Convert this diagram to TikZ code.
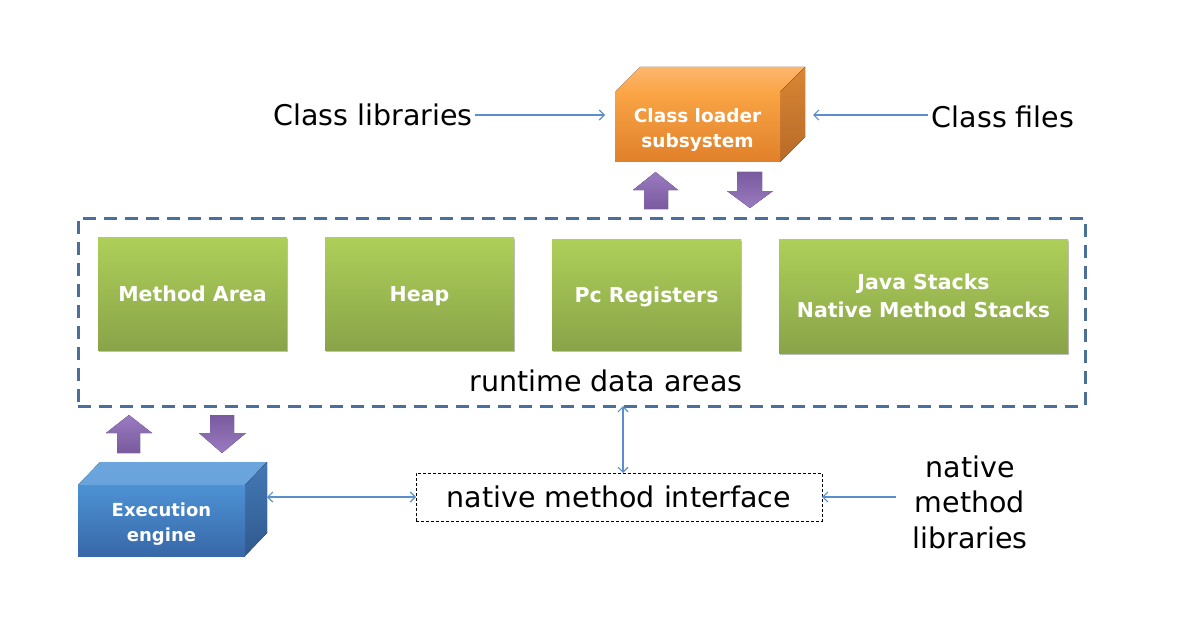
\documentclass[tikz,border=0pt]{standalone}
\usepackage{fontspec}
\setmainfont{DejaVu Sans}
\usetikzlibrary{arrows.meta,shadows,calc}
\definecolor{gtop}{HTML}{AECF59}
\definecolor{gbot}{HTML}{89A449}
\definecolor{otop}{HTML}{FAA546}
\definecolor{obot}{HTML}{E0802A}
\definecolor{otopface}{HTML}{FDB66E}
\definecolor{osideA}{HTML}{D88634}
\definecolor{osideB}{HTML}{B86A28}
\definecolor{btop}{HTML}{4D92D4}
\definecolor{bbot}{HTML}{3868A8}
\definecolor{btopface}{HTML}{6DA6DD}
\definecolor{bsideA}{HTML}{4479B5}
\definecolor{bsideB}{HTML}{30598E}
\definecolor{ptop}{HTML}{9A7BC1}
\definecolor{pbot}{HTML}{7A5A9E}
\definecolor{conncol}{HTML}{5B8FCB}
\definecolor{dashcol}{HTML}{4A6F9A}
\begin{document}
\begin{tikzpicture}[x=1pt,y=-1pt,
  lbl/.style={font=\fontsize{28.5}{35.5}\selectfont, text=black, inner sep=2pt, align=center},
  gbox/.style={top color=gtop, bottom color=gbot, draw=none, outer sep=0pt, text=white,
    font=\bfseries\fontsize{20.5}{28}\selectfont, align=center,
    drop shadow={opacity=0.25, shadow xshift=1pt, shadow yshift=-1.5pt, fill=black}},
  oneline/.style={text height=15pt, text depth=0pt},
  front/.style={draw=none, outer sep=0pt, inner sep=0pt},
  fronttext/.style={text=white, align=center, inner sep=0pt},
  conn/.style={draw=conncol, line width=1.2pt, -{Straight Barb[length=5pt,width=10pt]}},
  dconn/.style={draw=conncol, line width=1.2pt, {Straight Barb[length=5pt,width=10pt]}-{Straight Barb[length=5pt,width=10pt]}},
  parrow/.style={top color=ptop, bottom color=pbot, draw=none}
]
\useasboundingbox (0,0) rectangle (1190,631);
\fill[white] (0,0) rectangle (1190,631);

% runtime data areas dashed box
\node[draw=dashcol, line width=3pt, dash pattern=on 13pt off 8pt, minimum width=1007, minimum height=188, outer sep=0pt] (rda) at (581.5,312) {};
\node[lbl] (rdalbl) at (606,381) {runtime data areas};

% green boxes
\node[gbox, oneline, minimum width=189, minimum height=113] (ma) at (192.5,293.5) {Method Area};
\node[gbox, oneline, minimum width=189, minimum height=113] (heap) at (419.5,293.5) {Heap};
\node[gbox, oneline, minimum width=189, minimum height=111] (pc) at (646.5,294.5) {Pc Registers};
\node[gbox, minimum width=289, minimum height=114] (js) at (923.5,296) {Java Stacks\\Native Method Stacks};

% class loader subsystem (3D box)
\fill[top color=otopface, bottom color=otop] (615,92) -- ++(25,-25) -- ++(165,0) -- ++(-25,25) -- cycle;
\fill[top color=osideA, bottom color=osideB] (780,92) -- ++(25,-25) -- ++(0,70) -- ++(-25,25) -- cycle;
\node[front, top color=otop, bottom color=obot, minimum width=165, minimum height=70] (cl) at (697.5,127) {};
\node[fronttext, font=\bfseries\fontsize{18.5}{25}\selectfont] (cltext) at ($(cl.center)+(0,2.5)$) {Class loader\\subsystem};
\coordinate (clback) at (805,115);

% class libraries / class files
\node[lbl] (clib) at (373,115) {Class libraries};
\node[lbl] (cfiles) at (1003,117) {Class files};
\draw[conn, shorten >=10pt] (clib.east) -- (clib.east -| cl.west);
\draw[conn, shorten >=8pt, shorten <=2pt] (cfiles.west |- clback) -- (clback);

% purple arrows (class loader)
\fill[parrow] (633,190) -- (655.5,172) -- (678,190) -- (668,190) -- (668,209) -- (644,209) -- (644,190) -- cycle;
\fill[parrow, top color=pbot, bottom color=ptop] (737,172) -- (762,172) -- (762,191) -- (773,191) -- (750,208) -- (727,191) -- (737,191) -- cycle;

% execution engine (3D box)
\fill[top color=btopface, bottom color=btopface!85!btop] (78,485) -- ++(22,-23) -- ++(167,0) -- ++(-22,23) -- cycle;
\fill[top color=bsideA, bottom color=bsideB] (245,485) -- ++(22,-23) -- ++(0,71) -- ++(-22,23) -- cycle;
\node[front, top color=btop, bottom color=bbot, minimum width=167, minimum height=71] (ee) at (161.5,520.5) {};
\node[fronttext, font=\bfseries\fontsize{18}{25}\selectfont] (eetext) at ($(ee.center)+(0,4)$) {Execution\\engine};
\coordinate (eeback) at (267,497);

% purple arrows (execution engine)
\fill[parrow] (106,433) -- (129,415) -- (152,433) -- (140,433) -- (140,453) -- (117,453) -- (117,433) -- cycle;
\fill[parrow, top color=pbot, bottom color=ptop] (210,415) -- (234,415) -- (234,433) -- (246,433) -- (222,453) -- (199,433) -- (210,433) -- cycle;

% native method interface
\node[draw=black, line width=0.8pt, dash pattern=on 3pt off 2pt, minimum width=406, minimum height=48,
  font=\fontsize{28.5}{34}\selectfont, outer sep=0pt] (nmi) at (619,497) {native method interface};
\node[lbl] (nml) at (970,502) {native\\method\\libraries};

\draw[dconn] (nmi.north -| 623,0) -- (rda.south -| 623,0);
\draw[dconn] (eeback) -- (nmi.west);
\draw[conn, shorten <=14pt] (nml.west |- nmi.east) -- (nmi.east);
\end{tikzpicture}
\end{document}
